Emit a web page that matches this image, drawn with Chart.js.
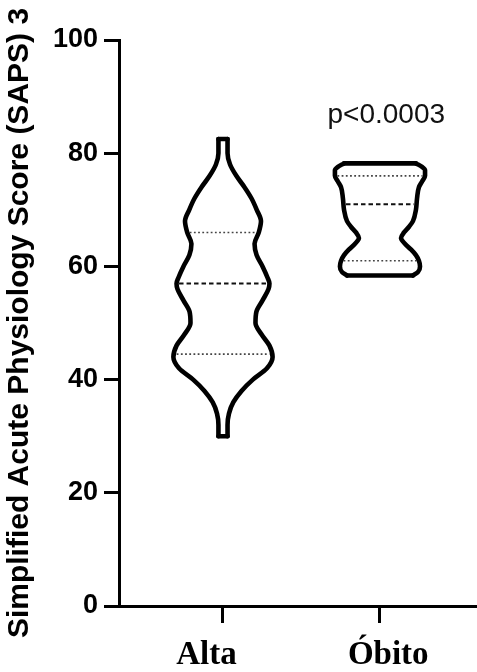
<!DOCTYPE html>
<html>
<head>
<meta charset="utf-8">
<script src="https://cdn.jsdelivr.net/npm/chart.js@4"></script>
<style>html,body{margin:0;padding:0;background:#fff;overflow:hidden}</style>
</head>
<body>
<canvas id="c" width="477" height="672"></canvas>
<script>
// ---- data ----
const categories = ['Alta', 'Óbito'];
const categoryPositions = [1, 2];

// violin outline: level (score) and half-width of the density (x-axis units)
const altaLevels     = [30, 32, 34, 36, 38, 40, 42, 44, 46, 48, 50, 52, 54, 56, 57, 58, 60, 62, 64, 66, 68, 70, 72, 74, 76, 78, 80, 82.5];
const altaHalfWidths = [0.029, 0.029, 0.038, 0.066, 0.118, 0.190, 0.280, 0.316, 0.296, 0.245, 0.207, 0.213, 0.252, 0.290, 0.296, 0.284, 0.252, 0.214, 0.201, 0.228, 0.242, 0.215, 0.182, 0.137, 0.085, 0.045, 0.029, 0.029];

const obitoLevels     = [58.4, 59, 60, 61, 62, 63, 64, 65, 66, 67, 68, 70, 72, 74, 75, 76, 77, 77.6, 78.2];
const obitoHalfWidths = [0.210, 0.242, 0.255, 0.248, 0.229, 0.197, 0.159, 0.134, 0.153, 0.185, 0.210, 0.229, 0.236, 0.248, 0.268, 0.287, 0.287, 0.268, 0.229];

// quartiles: [Q1, median, Q3]
const altaQuartiles  = [44.5, 57, 66];
const obitoQuartiles = [61, 71, 76];

const yTickValues = [0, 20, 40, 60, 80, 100];
const yTitle = 'Simplified Acute Physiology Score (SAPS) 3';
const pText = 'p<0.0003';
const pTextAt = { x: 2.04, y: 85.3 };

// ---- helpers ----
function side(center, levels, hw, sign) {
  return levels.map((v, i) => ({ x: center + sign * hw[i], y: v }));
}
function cap(center, level, hw) {
  return [{ x: center - hw, y: level }, { x: center + hw, y: level }];
}
function hwAt(levels, hw, v) {
  for (let i = 0; i < levels.length - 1; i++) {
    if (v >= levels[i] && v <= levels[i + 1]) {
      const t = (v - levels[i]) / (levels[i + 1] - levels[i]);
      return hw[i] + t * (hw[i + 1] - hw[i]);
    }
  }
  return 0;
}
const outlineStyle = { borderColor: '#000', borderWidth: 4.6, pointRadius: 0, fill: false, borderJoinStyle: 'round', borderCapStyle: 'round' };
const curved = Object.assign({}, outlineStyle, { cubicInterpolationMode: 'monotone' });
const straight = Object.assign({}, outlineStyle, { tension: 0, cubicInterpolationMode: 'default' });

function violinDatasets(center, levels, hw, quart) {
  const ds = [];
  ds.push(Object.assign({ data: side(center, levels, hw, -1) }, curved));
  ds.push(Object.assign({ data: side(center, levels, hw, 1) }, curved));
  ds.push(Object.assign({ data: cap(center, levels[0], hw[0]) }, straight));
  ds.push(Object.assign({ data: cap(center, levels[levels.length - 1], hw[hw.length - 1]) }, straight));
  quart.forEach((q, i) => {
    const w = hwAt(levels, hw, q) - 0.016;
    const isMedian = i === 1;
    ds.push({
      data: cap(center, q, w),
      borderColor: isMedian ? '#111' : '#444',
      borderWidth: isMedian ? 2 : 1.6,
      borderDash: isMedian ? [4.5, 3] : [1.8, 2.4],
      pointRadius: 0, fill: false, tension: 0
    });
  });
  return ds;
}

const datasets = []
  .concat(violinDatasets(categoryPositions[0], altaLevels, altaHalfWidths, altaQuartiles))
  .concat(violinDatasets(categoryPositions[1], obitoLevels, obitoHalfWidths, obitoQuartiles));

const pLabel = {
  id: 'pLabel',
  afterDatasetsDraw(chart) {
    const { ctx, scales: { x, y } } = chart;
    ctx.save();
    ctx.font = '28px "Liberation Sans", Arial, sans-serif';
    ctx.fillStyle = '#111';
    ctx.textAlign = 'center';
    ctx.textBaseline = 'alphabetic';
    ctx.fillText(pText, x.getPixelForValue(pTextAt.x), y.getPixelForValue(pTextAt.y));
    ctx.restore();
  }
};

new Chart(document.getElementById('c'), {
  type: 'line',
  data: { datasets },
  plugins: [pLabel],
  options: {
    indexAxis: 'y',
    responsive: false,
    animation: false,
    devicePixelRatio: 1,
    layout: { padding: { top: 40, left: 0, right: 0, bottom: 0 } },
    plugins: { legend: { display: false }, tooltip: { enabled: false } },
    scales: {
      x: {
        type: 'linear',
        min: 0.3376,
        max: 2.618,
        afterBuildTicks: s => { s.ticks = categoryPositions.map(v => ({ value: v })); },
        afterFit: s => { s.height = 66; },
        border: { display: true, color: '#000', width: 3 },
        grid: { display: true, drawOnChartArea: false, drawTicks: true, tickLength: 17, tickWidth: 3, tickColor: '#000', lineWidth: 3, color: '#000' },
        ticks: {
          autoSkip: false, maxRotation: 0, padding: 13, color: '#000',
          font: { family: '"Liberation Serif", "Times New Roman", serif', size: 33, weight: 'bold' },
          callback: v => {
            const i = categoryPositions.indexOf(v);
            if (i === 0) return categories[0] + '    ';
            if (i === 1) return '  ' + categories[1];
            return '';
          }
        }
      },
      y: {
        type: 'linear',
        min: 0,
        max: 100,
        afterBuildTicks: s => { s.ticks = yTickValues.map(v => ({ value: v })); },
        afterFit: s => { s.width = 119; },
        border: { display: true, color: '#000', width: 3 },
        grid: { display: true, drawOnChartArea: false, drawTicks: true, tickLength: 15, tickWidth: 3, tickColor: '#000', lineWidth: 3, color: '#000' },
        ticks: {
          padding: 6, color: '#000',
          font: { family: '"Liberation Sans", Arial, sans-serif', size: 27, weight: 'bold' }
        },
        title: {
          display: true, text: yTitle, color: '#000',
          font: { family: '"Liberation Sans", Arial, sans-serif', size: 30, weight: 'bold' },
          padding: { top: 2, bottom: 0 }
        }
      }
    }
  }
});
</script>
</body>
</html>
